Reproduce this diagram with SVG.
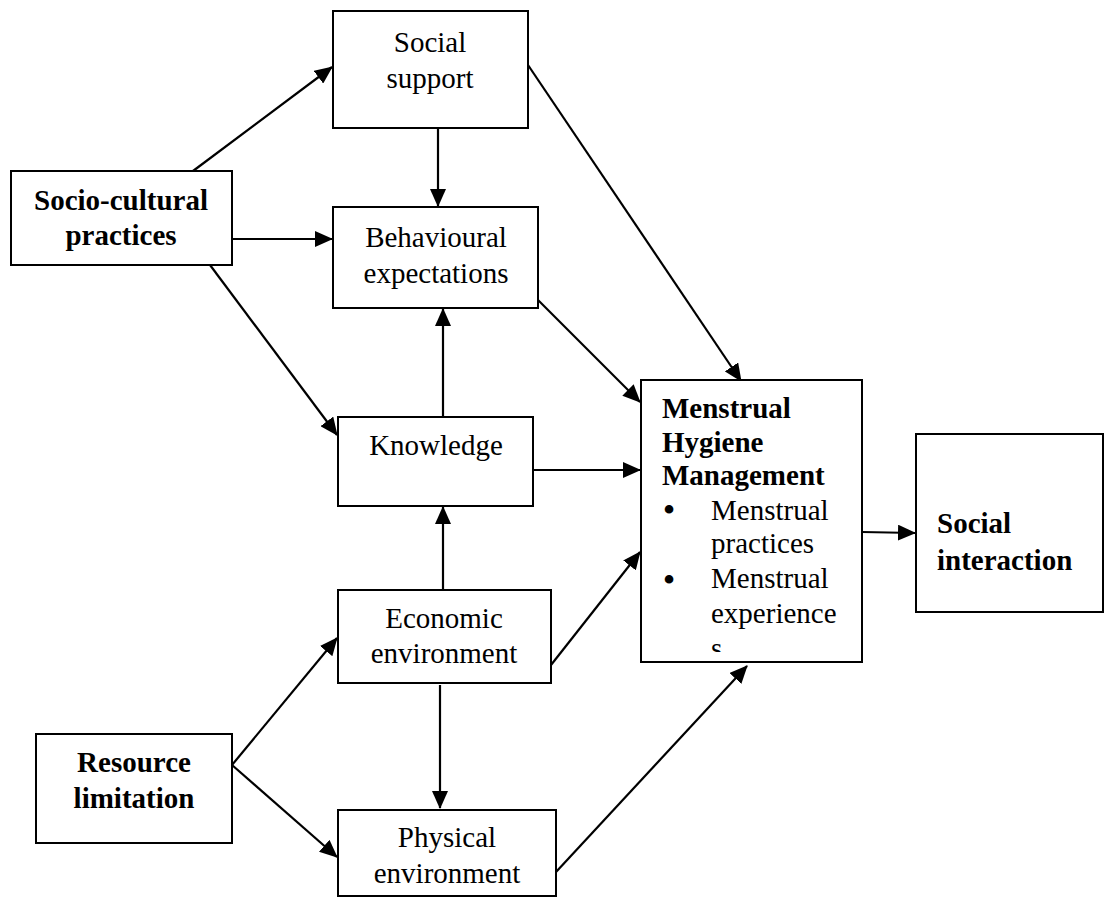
<svg xmlns="http://www.w3.org/2000/svg" width="1104" height="897" viewBox="0 0 1104 897">
<style>
.box{fill:#fff;stroke:#000;stroke-width:2}
.t{font-family:"Liberation Serif","Times New Roman",serif;font-size:29px;fill:#000}
.b{font-weight:bold}
.c{text-anchor:middle}
.bul{font-family:"Liberation Serif","Times New Roman",serif;font-size:36px;text-anchor:middle;fill:#000}
.ln{stroke:#000;stroke-width:2.2;fill:none;marker-end:url(#ah)}
</style>
<defs>
<marker id="ah" markerUnits="userSpaceOnUse" markerWidth="18" markerHeight="16" refX="17" refY="8" orient="auto">
<path d="M0,0 L18,8 L0,16 z" fill="#000"/>
</marker>
<clipPath id="mhmclip"><rect x="641" y="380" width="221" height="272"/></clipPath>
</defs>
<rect width="1104" height="897" fill="#fff"/>
<g id="connectors">
<line class="ln" x1="193" y1="171" x2="332" y2="67"/>
<line class="ln" x1="232" y1="239" x2="332" y2="239"/>
<line class="ln" x1="210" y1="265" x2="337" y2="435"/>
<line class="ln" x1="438" y1="128" x2="438" y2="206"/>
<line class="ln" x1="528" y1="65" x2="741" y2="381"/>
<line class="ln" x1="538" y1="300" x2="640" y2="402"/>
<line class="ln" x1="533" y1="470" x2="640" y2="470"/>
<line class="ln" x1="443" y1="590" x2="443" y2="507"/>
<line class="ln" x1="443" y1="417" x2="443" y2="309"/>
<line class="ln" x1="551" y1="665" x2="640" y2="552"/>
<line class="ln" x1="440" y1="685" x2="440" y2="808"/>
<line class="ln" x1="556" y1="872" x2="747" y2="666"/>
<line class="ln" x1="232" y1="765" x2="337" y2="638"/>
<line class="ln" x1="232" y1="765" x2="337" y2="857"/>
<line class="ln" x1="862" y1="532" x2="915" y2="533"/>
</g>
<g id="social-support">
<rect class="box" x="333" y="11" width="195" height="117"/>
<text class="t c" x="430" y="52">Social</text>
<text class="t c" x="430" y="88">support</text>
</g>
<g id="socio-cultural">
<rect class="box" x="11" y="171" width="221" height="94"/>
<text class="t b c" x="121" y="210">Socio-cultural</text>
<text class="t b c" x="121" y="245">practices</text>
</g>
<g id="behavioural">
<rect class="box" x="333" y="207" width="205" height="101"/>
<text class="t c" x="436" y="247">Behavioural</text>
<text class="t c" x="436" y="283">expectations</text>
</g>
<g id="knowledge">
<rect class="box" x="338" y="417" width="195" height="89"/>
<text class="t c" x="436" y="455">Knowledge</text>
</g>
<g id="economic">
<rect class="box" x="338" y="590" width="213" height="93"/>
<text class="t c" x="444" y="628">Economic</text>
<text class="t c" x="444" y="663">environment</text>
</g>
<g id="physical">
<rect class="box" x="338" y="810" width="218" height="86"/>
<text class="t c" x="447" y="847">Physical</text>
<text class="t c" x="447" y="883">environment</text>
</g>
<g id="resource">
<rect class="box" x="36" y="734" width="196" height="109"/>
<text class="t b c" x="134" y="772">Resource</text>
<text class="t b c" x="134" y="808">limitation</text>
</g>
<g id="mhm">
<rect class="box" x="641" y="380" width="221" height="282"/>
<g clip-path="url(#mhmclip)">
<text class="t b" x="662" y="418">Menstrual</text>
<text class="t b" x="662" y="452">Hygiene</text>
<text class="t b" x="662" y="485">Management</text>
<text class="bul" x="669" y="522">•</text>
<text class="t" x="711" y="520">Menstrual</text>
<text class="t" x="711" y="553">practices</text>
<text class="bul" x="669" y="592">•</text>
<text class="t" x="711" y="588">Menstrual</text>
<text class="t" x="711" y="623">experience</text>
<text class="t" x="711" y="658">s</text>
</g>
</g>
<g id="social-interaction">
<rect class="box" x="916" y="434" width="187" height="178"/>
<text class="t b" x="937" y="533">Social</text>
<text class="t b" x="937" y="570">interaction</text>
</g>
</svg>
